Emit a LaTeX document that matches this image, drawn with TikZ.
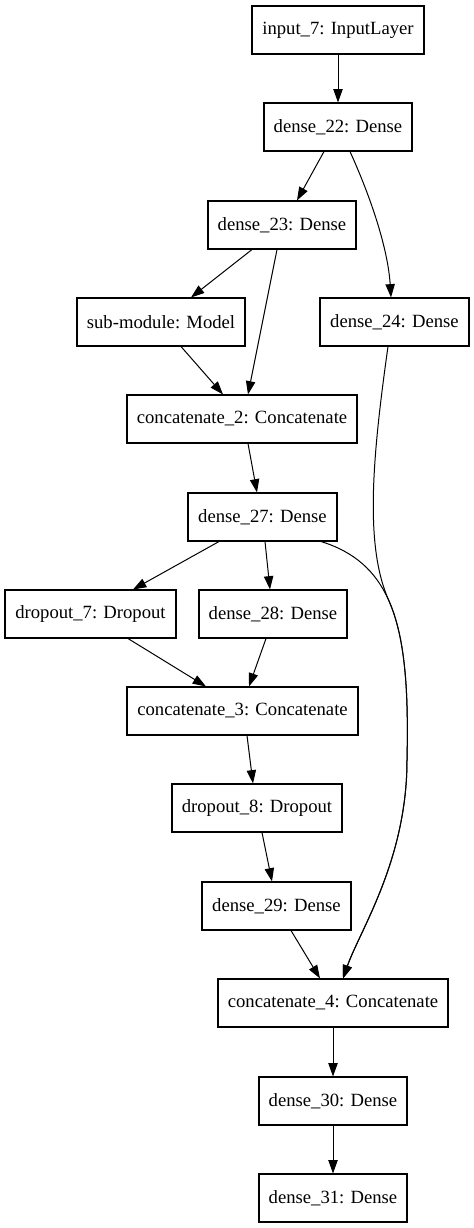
\documentclass[tikz,border=0pt]{standalone}
\usepackage{fontspec}
\setmainfont{Liberation Serif}
\usetikzlibrary{arrows.meta,calc}
\begin{document}
\begin{tikzpicture}[x=0.75pt,y=-0.75pt,
  layer/.style={draw,line width=0.8pt,rectangle,inner sep=0pt,minimum height=36pt,font=\fontsize{14pt}{16pt}\selectfont},
  bw/.style={minimum width=#1*0.75pt},
  edge/.style={line width=0.75pt,-{Triangle[length=10pt,width=7pt]}}]
\useasboundingbox (0,0) rectangle (474,1228);
\node[layer,bw=172] (in7) at (338,30) {input\_7: InputLayer};
\node[layer,bw=148] (d22) at (338,127) {dense\_22: Dense};
\node[layer,bw=148] (d23) at (282,225) {dense\_23: Dense};
\node[layer,bw=168] (sub) at (161,322) {sub-module: Model};
\node[layer,bw=149] (d24) at (394.5,322) {dense\_24: Dense};
\node[layer,bw=230] (c2) at (242,419) {concatenate\_2: Concatenate};
\node[layer,bw=149] (d27) at (262.5,517) {dense\_27: Dense};
\node[layer,bw=171] (dr7) at (90.5,614) {dropout\_7: Dropout};
\node[layer,bw=148] (d28) at (273,614) {dense\_28: Dense};
\node[layer,bw=231] (c3) at (242.5,711) {concatenate\_3: Concatenate};
\node[layer,bw=170] (dr8) at (257,808) {dropout\_8: Dropout};
\node[layer,bw=149] (d29) at (276.5,906) {dense\_29: Dense};
\node[layer,bw=230] (c4) at (333,1003) {concatenate\_4: Concatenate};
\node[layer,bw=148] (d30) at (333,1101) {dense\_30: Dense};
\node[layer,bw=148] (d31) at (333,1198) {dense\_31: Dense};
\coordinate (m) at (407,760);
\coordinate (j) at (388.79,600.49);
% edges
\draw[edge] (in7.south) -- (d22.north);
\draw[edge] ($(d22.south)+(-14,0)$) -- ($(d23.north)+(15,0)$);
\draw[edge] ($(d22.south)+(12,0)$) .. controls (372,200) and (388,250) .. ($(d24.north)+(-3.5,0)$);
\draw[edge] ($(d23.south)+(-30,0)$) -- ($(sub.north)+(30,0)$);
\draw[edge] ($(d23.south)+(-5,0)$) -- ($(c2.north)+(6,0)$);
\draw[edge] ($(sub.south)+(20,0)$) -- ($(c2.north)+(-19,0)$);
\draw[edge] ($(c2.south)+(6,0)$) -- ($(d27.north)+(-5.5,0)$);
\draw[edge] ($(d27.south)+(-43.5,0)$) -- ($(dr7.north)+(42.5,0)$);
\draw[edge] ($(d27.south)+(2.5,0)$) -- ($(d28.north)+(-3,0)$);
\draw[edge] ($(d27.south)+(58.5,0)$) .. controls (354.3,551.8) and (375.65,570.9) .. (j) .. controls (404.86,636.66) and (408.65,688.5) .. (m) .. controls (407,860) and (360,930) .. ($(c4.north)+(10,0)$);
\draw[edge] ($(d24.south)+(-6.5,0)$) .. controls (372,460) and (364.7,546.2) .. (j) .. controls (404.86,636.66) and (408.65,688.5) .. (m) .. controls (407,860) and (360,930) .. ($(c4.north)+(10,0)$);
\draw[edge] ($(dr7.south)+(37.5,0)$) -- ($(c3.north)+(-36.5,0)$);
\draw[edge] ($(d28.south)+(-7,0)$) -- ($(c3.north)+(6.5,0)$);
\draw[edge] ($(c3.south)+(4.5,0)$) -- ($(dr8.north)+(-4,0)$);
\draw[edge] ($(dr8.south)+(5,0)$) -- ($(d29.north)+(-4.5,0)$);
\draw[edge] ($(d29.south)+(14.5,0)$) -- ($(c4.north)+(-13,0)$);
\draw[edge] (c4.south) -- (d30.north);
\draw[edge] (d30.south) -- (d31.north);
\end{tikzpicture}
\end{document}
